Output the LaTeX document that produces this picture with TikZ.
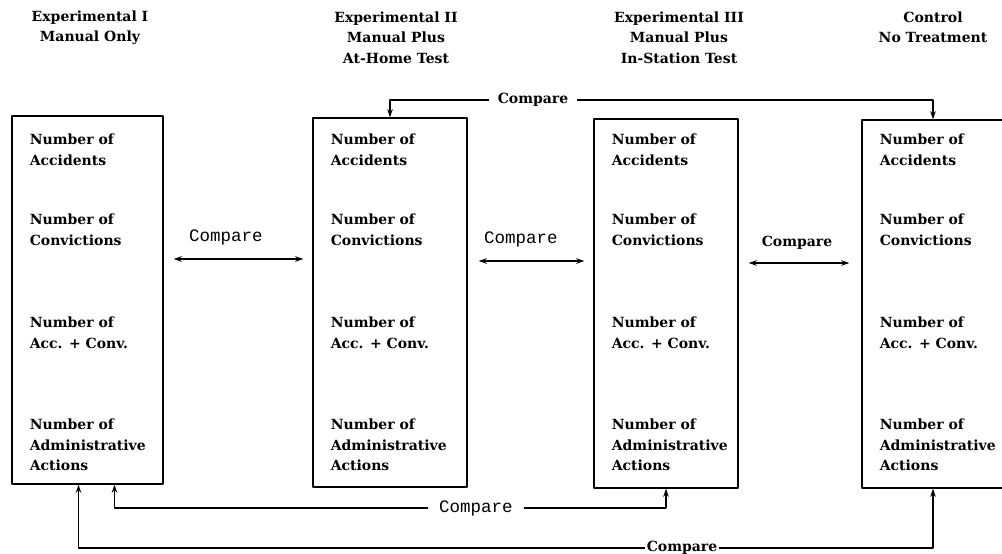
\documentclass[tikz,border=0pt]{standalone}
\usepackage{fontspec}
\setmainfont{DejaVu Serif}
\newfontfamily\typew{Liberation Mono}
\usetikzlibrary{arrows.meta,calc}
\tikzset{
	grp/.style={draw,line width=1.5pt,inner sep=0pt},
	item/.style={anchor=west,align=left,inner sep=0pt,font=\fontsize{14}{20.5}\selectfont\bfseries},
	head/.style={align=center,inner sep=0pt,font=\fontsize{14}{20.5}\selectfont\bfseries},
	cmp/.style={inner sep=0pt,inner xsep=8pt,font=\fontsize{14}{15}\selectfont\bfseries},
	cmptt/.style={inner sep=0pt,inner xsep=11pt,font=\fontsize{17.5}{19}\selectfont\typew},
}
\begin{document}
\begin{tikzpicture}[x=1pt,y=-1pt,line join=round,line width=1.1pt,>={Stealth[length=8pt,width=5.5pt]}]
	\useasboundingbox (0,0) rectangle (1002,554);
	% groups
	\node[grp,minimum width=151pt,minimum height=368pt] (b1) at (87.5,300) {};
	\node[grp,minimum width=154pt,minimum height=369pt] (b2) at (390,302.5) {};
	\node[grp,minimum width=144pt,minimum height=369pt] (b3) at (666,303.5) {};
	\node[grp,minimum width=142pt,minimum height=368pt] (b4) at (933,304) {};
	% headings
	\node[head] (h1) at (90,27.5) {Experimental I\\Manual Only};
	\node[head] (h2) at (396,37.5) {Experimental II\\Manual Plus\\At-Home Test};
	\node[head] (h3) at (679,37.5) {Experimental III\\Manual Plus\\In-Station Test};
	\node[head] (h4) at (933,27.5) {Control\\No Treatment};
	% measures
	\foreach \b in {b1,b2,b3,b4}{
		\node[item] (\b-acc) at ($(\b.west |- 0,150)+(18,0)$) {Number of\\Accidents};
		\node[item] (\b-conv) at ($(\b.west |- 0,230)+(18,0)$) {Number of\\Convictions};
		\node[item] (\b-both) at ($(\b.west |- 0,333)+(18,0)$) {Number of\\Acc. + Conv.};
		\node[item] (\b-adm) at ($(\b.west |- 0,445)+(18,0)$) {Number of\\Administrative\\Actions};
	}
	% neighbour comparisons
	\node[cmptt] (c12) at (226,237) {Compare};
	\node[cmptt] (c23) at (521,239) {Compare};
	\node[cmp] (c34) at (797,243) {Compare};
	\coordinate (a12) at ($(c12)+(0,22)$);
	\coordinate (a23) at ($(c23)+(0,22)$);
	\coordinate (a34) at ($(c34)+(0,20)$);
	\draw[<->,shorten <=10pt,shorten >=9pt] (b1.east |- a12) -- (b2.west |- a12);
	\draw[<->,shorten <=11pt,shorten >=9pt] (b2.east |- a23) -- (b3.west |- a23);
	\draw[<->,shorten <=10pt,shorten >=12pt] (b3.east |- a34) -- (b4.west |- a34);
	% comparisons against control and between manual groups
	\node[cmp] (ctop) at (533,100) {Compare};
	\draw[->] (ctop.west) -| (b2.north);
	\draw[->] (ctop.east) -| (b4.north);
	\node[cmptt] (cb1) at (476,508) {Compare};
	\draw[->] (cb1.west) -| ($(b1.south)+(27,0)$);
	\draw[->] (cb1.east) -| (b3.south);
	\node[cmp,inner xsep=1pt] (cb2) at (682,548) {Compare};
	\draw[->] (cb2.west) -| ($(b1.south)+(-9,0)$);
	\draw[->] (cb2.east) -| (b4.south);
\end{tikzpicture}
\end{document}
